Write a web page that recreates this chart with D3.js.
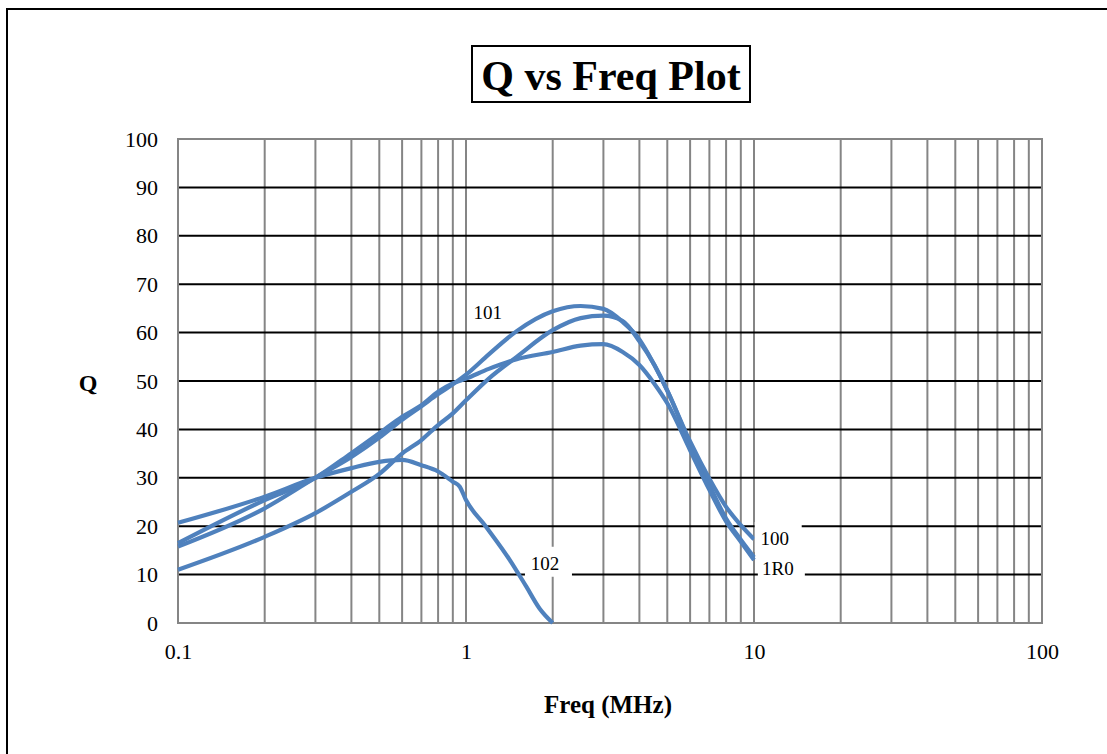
<!DOCTYPE html>
<html>
<head>
<meta charset="utf-8">
<script src="https://cdn.jsdelivr.net/npm/d3@7"></script>
<style>
  html, body { margin: 0; padding: 0; background: #fff; }
  svg { display: block; font-family: "Liberation Serif", "Times New Roman", serif; }
</style>
</head>
<body>
<div id="chart"></div>
<script>
// Q vs frequency
const freqs = [0.1, 0.2, 0.3, 0.4, 0.5, 0.6, 0.7, 0.8, 0.9, 1, 1.2, 1.5, 2, 2.5, 3, 3.5, 4, 4.5, 5, 6, 7, 8, 9, 10];
const q101 = [15.8, 23.7, 30, 34.3, 38.3, 42.0, 44.8, 47.3, 49.3, 51.3, 55.5, 60.3, 64.4, 65.5, 64.9, 62.2, 58.6, 53.4, 48.0, 37.0, 28.5, 21.6, 17.2, 13.6];
const q100 = [11, 17.8, 22.7, 27.1, 30.8, 35.0, 37.8, 40.9, 43.3, 46.0, 50.5, 55.0, 60.5, 63.0, 63.5, 62.4, 58.2, 53.4, 48.0, 37.5, 29.8, 24.0, 20.2, 17.3];
const q1R0 = [16.5, 25.4, 30, 35.1, 39.2, 42.6, 45.0, 47.8, 49.5, 50.5, 52.5, 54.5, 56.0, 57.3, 57.6, 56.0, 53.3, 49.5, 45.4, 35.7, 27.5, 21.0, 16.8, 13.0];
const freq102 = [0.1, 0.2, 0.3, 0.4, 0.5, 0.6, 0.7, 0.8, 0.9, 0.95, 1.0, 1.17, 1.42, 1.62, 1.8, 2.0];
const q102 = [20.7, 26.1, 30, 32, 33.3, 33.7, 32.6, 31.3, 29.2, 28.2, 25.4, 20.0, 13.0, 7.5, 3.0, 0];

const yTicks = [0, 10, 20, 30, 40, 50, 60, 70, 80, 90, 100];
const xTicks = [0.1, 1, 10, 100];

const series = [
  { name: '101', f: freqs, q: q101 },
  { name: '100', f: freqs, q: q100 },
  { name: '1R0', f: freqs, q: q1R0 },
  { name: '102', f: freq102, q: q102 }
];

const W = 1107, H = 754;
const margin = { top: 139, right: 65, bottom: 131, left: 178 };
const lineColor = '#4f81bd';

const svg = d3.select('#chart').append('svg')
  .attr('width', W)
  .attr('height', H);

// outer frame (runs off the right and bottom edges)
svg.append('rect')
  .attr('x', 7).attr('y', 9)
  .attr('width', W + 20).attr('height', H + 20)
  .attr('fill', 'none')
  .attr('stroke', '#000')
  .attr('stroke-width', 2);

const x = d3.scaleLog().domain([0.1, 100]).range([margin.left, W - margin.right]);
const y = d3.scaleLinear().domain([0, 100]).range([H - margin.bottom, margin.top]);

// vertical grid (every 1..9 of each decade)
svg.append('g')
  .selectAll('line')
  .data(x.ticks())
  .enter()
  .append('line')
  .attr('x1', (d) => x(d)).attr('x2', (d) => x(d))
  .attr('y1', y(0)).attr('y2', y(100))
  .attr('stroke', '#858585')
  .attr('stroke-width', 2);

// horizontal grid
svg.append('g')
  .selectAll('line')
  .data(yTicks.filter((d) => d > 0 && d < 100))
  .enter()
  .append('line')
  .attr('x1', x(0.1)).attr('x2', x(100))
  .attr('y1', (d) => y(d)).attr('y2', (d) => y(d))
  .attr('stroke', '#000')
  .attr('stroke-width', 2);

// plot border
svg.append('rect')
  .attr('x', x(0.1)).attr('y', y(100))
  .attr('width', x(100) - x(0.1)).attr('height', y(0) - y(100))
  .attr('fill', 'none')
  .attr('stroke', '#858585')
  .attr('stroke-width', 2);

// axes
const yAxis = svg.append('g')
  .attr('transform', `translate(${x(0.1)},0)`)
  .call(d3.axisLeft(y).tickValues(yTicks).tickSize(0).tickPadding(20));
yAxis.select('.domain').remove();
yAxis.selectAll('text')
  .style('font-family', '"Liberation Serif", serif')
  .style('font-size', '22px')
  .attr('fill', '#000');

const xAxis = svg.append('g')
  .attr('transform', `translate(0,${y(0)})`)
  .call(d3.axisBottom(x).tickValues(xTicks).tickFormat(d3.format('')).tickSize(0).tickPadding(20));
xAxis.select('.domain').remove();
xAxis.selectAll('text')
  .style('font-family', '"Liberation Serif", serif')
  .style('font-size', '22px')
  .attr('fill', '#000');

// curves
const line = d3.line()
  .x((d) => x(d[0]))
  .y((d) => y(d[1]))
  .curve(d3.curveMonotoneX);

svg.append('g')
  .selectAll('path')
  .data(series)
  .enter()
  .append('path')
  .attr('d', (s) => line(s.f.map((f, i) => [f, s.q[i]])))
  .attr('fill', 'none')
  .attr('stroke', lineColor)
  .attr('stroke-width', 4.2)
  .attr('stroke-linejoin', 'round');

// series labels
const labels = [
  { text: '101', f: 1.19, q: 62.8, box: false },
  { text: '102', f: 1.88, q: 11.0, box: true },
  { text: '100', f: 11.8, q: 16.1, box: true },
  { text: '1R0', f: 12.1, q: 9.9, box: true }
];
const lg = svg.append('g');
labels.forEach((l) => {
  const g = lg.append('g').attr('transform', `translate(${x(l.f)},${y(l.q)})`);
  if (l.box) {
    g.append('rect')
      .attr('x', -20).attr('y', -23)
      .attr('width', 47).attr('height', 30)
      .attr('fill', '#fff');
  }
  g.append('text')
    .attr('text-anchor', 'middle')
    .attr('y', 0)
    .style('font-size', '19px')
    .text(l.text);
});

// title
const tg = svg.append('g');
tg.append('rect')
  .attr('x', 472).attr('y', 46)
  .attr('width', 278).attr('height', 56)
  .attr('fill', '#fff')
  .attr('stroke', '#000')
  .attr('stroke-width', 2);
tg.append('text')
  .attr('x', 611).attr('y', 90)
  .attr('text-anchor', 'middle')
  .style('font-size', '42px')
  .style('font-weight', 'bold')
  .text('Q vs Freq Plot');

// axis titles
svg.append('text')
  .attr('x', 88).attr('y', 391)
  .attr('text-anchor', 'middle')
  .style('font-size', '24px')
  .style('font-weight', 'bold')
  .text('Q');

svg.append('text')
  .attr('x', 608).attr('y', 713)
  .attr('text-anchor', 'middle')
  .style('font-size', '25px')
  .style('font-weight', 'bold')
  .text('Freq (MHz)');
</script>
</body>
</html>
